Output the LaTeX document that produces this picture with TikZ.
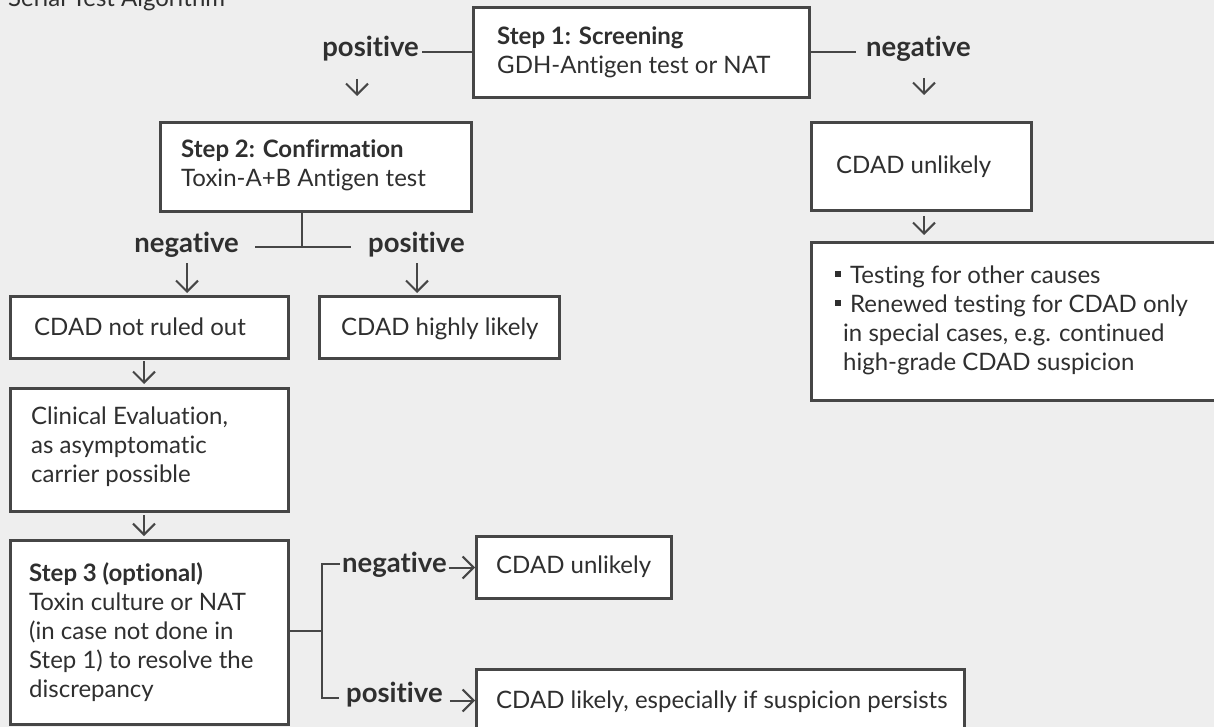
\documentclass[tikz,border=0pt]{standalone}
\usepackage{fontspec}
\setmainfont{Lato}[Ligatures={NoCommon}]
\usetikzlibrary{arrows.meta}
\definecolor{bg}{HTML}{EEEEEE}
\definecolor{linec}{HTML}{464646}
\definecolor{txtc}{HTML}{2F2F2F}
\newcommand\boxtext[1]{\parbox[t]{20cm}{\fontsize{24}{29}\selectfont\raggedright #1}}
\newcommand\bul{\makebox[15pt][l]{\raisebox{6pt}{\rule{6pt}{6pt}}}}
\tikzset{
  boxshape/.style={draw=linec, line width=3pt, fill=white, anchor=north west, inner sep=0pt},
  boxtxt/.style={anchor=base west, inner sep=0pt, text=txtc},
  lbl/.style={inner sep=0pt, text=txtc, font=\fontsize{27.5}{29}\selectfont\bfseries},
  conn/.style={draw=linec, line width=2pt},
  arr/.style={draw=linec, line width=2pt, -{Straight Barb[length=11pt,width=22pt]}},
}
\begin{document}
\begin{tikzpicture}[x=1pt,y=-1pt,font=\fontsize{24}{29}\selectfont]
\useasboundingbox (0,0) rectangle (1214,727);
\fill[bg] (0,0) rectangle (1214,727);
\clip (0,0) rectangle (1214,727);

% title
\node[boxtxt] (title) at (8,7) {Serial Test Algorithm};

% boxes
\node[boxshape, minimum width=336pt, minimum height=90pt] (step1) at (472,6) {};
\node[boxshape, minimum width=311pt, minimum height=89pt] (step2) at (159,121) {};
\node[boxshape, minimum width=220pt, minimum height=88pt] (unl1) at (810,121) {};
\node[boxshape, minimum width=415pt, minimum height=158pt] (big) at (810,241) {};
\node[boxshape, minimum width=278pt, minimum height=62pt] (nro) at (9,295) {};
\node[boxshape, minimum width=240pt, minimum height=62pt] (hl) at (318,295) {};
\node[boxshape, minimum width=278pt, minimum height=123pt] (clin) at (9,387) {};
\node[boxshape, minimum width=278pt, minimum height=184pt] (step3) at (9,539) {};
\node[boxshape, minimum width=195pt, minimum height=62pt] (unl2) at (475,535) {};
\node[boxshape, minimum width=488pt, minimum height=62pt] (lik) at (475,668) {};

% box texts
\node[boxtxt] (step1t) at (497,45) {\boxtext{\bfseries Step 1: Screening\\\mdseries GDH-Antigen test or NAT}};
\node[boxtxt] (step2t) at (181,158) {\boxtext{\bfseries Step 2: Confirmation\\\mdseries Toxin-A+B Antigen test}};
\node[boxtxt] (unl1t) at (836,174) {CDAD unlikely};
\node[boxtxt] (bigt) at (835,283) {\boxtext{\bul Testing for other causes\\\bul Renewed testing for CDAD only\\\hspace*{8pt}in special cases, e.g. continued\\\hspace*{8pt}high-grade CDAD suspicion}};
\node[boxtxt] (nrot) at (34,335) {CDAD not ruled out};
\node[boxtxt] (hlt) at (341,335) {CDAD highly likely};
\node[boxtxt] (clint) at (31,424) {\boxtext{Clinical Evaluation,\\as asymptomatic\\carrier possible}};
\node[boxtxt] (step3t) at (29,581) {\boxtext{\bfseries Step 3 (optional)\\\mdseries Toxin culture or NAT\\(in case not done in\\Step 1) to resolve the\\discrepancy}};
\node[boxtxt] (unl2t) at (496,573) {CDAD unlikely};
\node[boxtxt] (likt) at (496,708) {CDAD likely, especially if suspicion persists};

% labels
\node[lbl, anchor=base east] (pos1) at (419,57) {positive};
\node[lbl, anchor=base west] (neg1) at (866,57) {negative};
\node[lbl, anchor=base east] (neg2) at (239,252) {negative};
\node[lbl, anchor=base west] (pos2) at (368,252) {positive};
\node[lbl, anchor=base west] (neg3) at (342,572) {negative};
\node[lbl, anchor=base west] (pos3) at (346,702) {positive};

% step 1 branches
\draw[conn] (step1.west) -- ([xshift=3pt]pos1.east |- step1.west);
\draw[conn] (step1.east) -- ([xshift=-10pt]neg1.west |- step1.east);
\coordinate (a1) at (357,79);
\coordinate (a2) at (924,78);
\draw[arr, shorten >=25pt] (a1) -- (a1 |- step2.north);
\draw[arr, shorten >=26pt] (a2) -- (a2 |- unl1.north);

% step 2 branches
\coordinate (j2) at (302,247);
\coordinate (j2l) at (255,247);
\coordinate (j2r) at (351,247);
\draw[conn] (j2 |- step2.south) -- (j2);
\draw[conn] (j2l) -- (j2r);
\coordinate (a3) at (187,263);
\coordinate (a4) at (417,263);
\draw[arr, shorten >=2pt] (a3) -- (a3 |- nro.north);
\draw[arr, shorten >=2pt] (a4) -- (a4 |- hl.north);

% left column
\coordinate (c1) at (144,0);
\draw[arr, shorten <=1pt, shorten >=3pt] (c1 |- nro.south) -- (c1 |- clin.north);
\draw[arr, shorten <=2pt, shorten >=3pt] (c1 |- clin.south) -- (c1 |- step3.north);

% right column
\coordinate (c2) at (924,0);
\draw[arr, shorten <=4pt, shorten >=6pt] (c2 |- unl1.south) -- (c2 |- big.north);

% step 3 branches
\coordinate (j3) at (322,631);
\coordinate (j3t) at (322,564);
\coordinate (j3b) at (322,698);
\draw[conn] (step3.east |- j3) -- (j3);
\draw[conn, line cap=rect] ([xshift=-3pt]neg3.west |- j3t) -- (j3t) -- (j3b) -- ([xshift=-8pt]pos3.west |- j3b);
\draw[arr, shorten <=2pt] (neg3.east |- unl2.west) -- (unl2.west);
\draw[arr, shorten <=7pt] (pos3.east |- lik.west) -- (lik.west);
\end{tikzpicture}
\end{document}
